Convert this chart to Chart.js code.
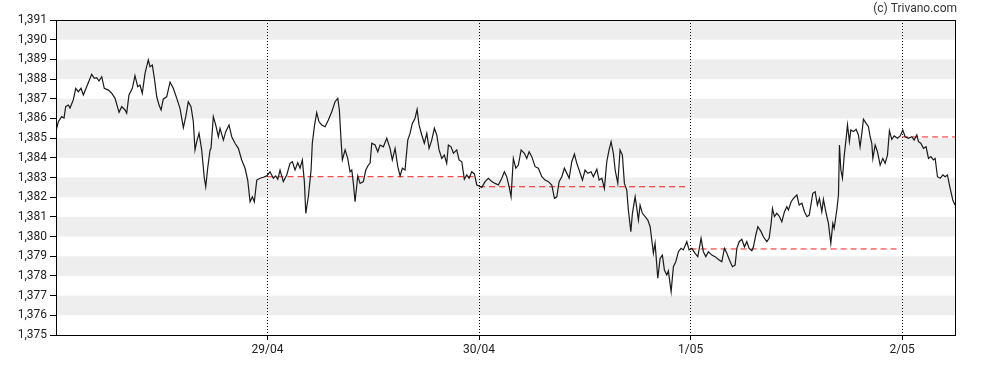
<!DOCTYPE html>
<html><head><meta charset="utf-8">
<script src="https://cdn.jsdelivr.net/npm/chart.js@4.4.1/dist/chart.umd.min.js"></script>
<style>html,body{margin:0;padding:0;background:#fff}#wrap{width:988px;height:370px;position:relative}</style>
</head><body><div id="wrap"><canvas id="c" width="988" height="370"></canvas></div>
<script>
// hours since 28/04 00:00
const times = [0,0.26,0.65,0.91,1.10,1.40,1.59,1.96,2.24,2.53,2.84,3.10,3.48,4.05,4.35,4.62,4.88,5.19,5.48,5.94,
6.32,6.70,7.15,7.46,7.83,8.02,8.28,8.66,8.96,9.27,9.53,9.79,10.10,10.47,10.67,10.93,11.16,11.43,11.69,11.92,
12.18,12.56,12.94,13.31,13.70,14.07,14.45,14.72,15.01,15.32,15.58,15.77,15.97,16.23,16.53,16.83,16.99,17.21,17.48,17.59,
17.85,18.12,18.42,18.61,18.99,19.26,19.63,19.94,20.31,20.69,21.07,21.45,21.75,22.02,22.28,22.50,22.78,23.15,23.52,23.91,
24.28,24.66,24.93,25.16,25.42,25.79,26.18,26.55,26.82,27.12,27.43,27.69,27.95,28.18,28.34,28.63,28.94,29.08,29.31,29.58,
29.84,30.15,30.53,30.90,31.29,31.66,31.97,32.15,32.34,32.49,32.80,33.10,33.36,33.56,33.74,33.93,34.24,34.50,34.87,35.15,
35.44,35.63,35.83,36.20,36.51,36.77,37.14,37.53,37.90,38.16,38.47,38.78,39.04,39.30,39.60,39.91,40.17,40.43,40.74,40.97,
41.19,41.50,41.79,42.07,42.33,42.63,42.93,43.20,43.46,43.77,44.06,44.33,44.52,44.82,45.09,45.47,45.73,46.04,46.33,46.61,
46.87,47.17,47.47,47.74,48.00,48.31,48.68,49.06,49.44,49.82,50.19,50.58,50.87,51.14,51.41,51.63,51.89,52.17,52.46,52.77,
53.14,53.41,53.68,53.98,54.36,54.73,55.12,55.49,55.87,56.25,56.55,56.82,57.08,57.39,57.68,57.96,58.22,58.52,58.82,59.09,
59.35,59.73,60.03,60.34,60.71,60.97,61.36,61.62,61.93,62.22,62.49,62.75,62.98,63.24,63.44,63.74,64.00,64.26,64.49,64.76,
64.94,65.22,65.40,65.71,65.90,66.08,66.27,66.53,66.84,67.15,67.41,67.60,67.78,67.97,68.28,68.54,68.80,69.03,69.30,69.48,
69.79,70.05,70.32,70.62,70.92,71.18,71.57,71.83,72.14,72.51,72.82,73.19,73.45,73.73,74.02,74.41,74.78,75.16,75.54,75.84,
76.11,76.49,76.75,77.05,77.25,77.51,77.81,78.11,78.38,78.64,78.95,79.13,79.40,79.63,80.00,80.26,80.65,80.91,81.14,81.29,
81.51,81.78,82.05,82.35,82.65,82.92,83.10,83.41,83.67,84.06,84.32,84.63,84.92,85.20,85.46,85.87,86.13,86.39,86.62,86.89,
87.07,87.38,87.64,87.91,88.14,88.29,88.59,88.78,88.89,89.05,89.23,89.42,89.65,89.80,90.02,90.18,90.48,90.78,91.04,91.23,
91.43,91.61,91.92,92.18,92.37,92.56,92.68,92.94,93.20,93.51,93.81,94.07,94.34,94.56,94.83,95.10,95.47,95.78,96.08,96.34,
96.72,97.10,97.36,97.67,97.85,98.12,98.42,98.72,98.99,99.26,99.55,99.75,100.01,100.32,100.62,100.88,101.14,101.45,101.75,102.00];

const prices = [1.38536,1.38583,1.38609,1.38602,1.38660,1.38668,1.38653,1.38694,1.38753,1.38736,1.38753,1.38719,1.38761,1.38824,1.38804,1.38807,1.38790,1.38812,1.38753,1.38744,
1.38728,1.38702,1.38631,1.38660,1.38643,1.38626,1.38719,1.38753,1.38817,1.38761,1.38770,1.38728,1.38829,1.38897,1.38863,1.38871,1.38804,1.38710,1.38668,1.38643,
1.38699,1.38710,1.38784,1.38753,1.38702,1.38651,1.38553,1.38609,1.38685,1.38660,1.38583,1.38440,1.38482,1.38524,1.38440,1.38296,1.38253,1.38347,1.38440,1.38448,
1.38609,1.38567,1.38507,1.38550,1.38490,1.38533,1.38567,1.38507,1.38474,1.38448,1.38389,1.38347,1.38287,1.38177,1.38202,1.38177,1.38287,1.38296,1.38301,1.38308,
1.38329,1.38296,1.38308,1.38291,1.38338,1.38279,1.38313,1.38372,1.38380,1.38338,1.38375,1.38347,1.38389,1.38279,1.38118,1.38202,1.38338,1.38474,1.38558,1.38629,
1.38583,1.38567,1.38558,1.38592,1.38634,1.38685,1.38702,1.38643,1.38490,1.38389,1.38440,1.38397,1.38329,1.38338,1.38270,1.38177,1.38308,1.38270,1.38279,1.38338,
1.38363,1.38372,1.38474,1.38465,1.38431,1.38465,1.38456,1.38499,1.38448,1.38389,1.38448,1.38355,1.38308,1.38347,1.38338,1.38490,1.38524,1.38575,1.38601,1.38646,
1.38567,1.38516,1.38474,1.38524,1.38448,1.38490,1.38550,1.38516,1.38440,1.38397,1.38414,1.38372,1.38465,1.38456,1.38423,1.38440,1.38389,1.38380,1.38291,1.38313,
1.38296,1.38329,1.38318,1.38262,1.38257,1.38250,1.38279,1.38296,1.38279,1.38270,1.38262,1.38296,1.38329,1.38304,1.38253,1.38202,1.38397,1.38347,1.38363,1.38440,
1.38423,1.38397,1.38431,1.38406,1.38355,1.38347,1.38304,1.38287,1.38279,1.38262,1.38194,1.38202,1.38279,1.38304,1.38347,1.38321,1.38296,1.38380,1.38419,1.38372,
1.38338,1.38287,1.38338,1.38321,1.38329,1.38304,1.38342,1.38287,1.38296,1.38245,1.38380,1.38440,1.38482,1.38423,1.38338,1.38270,1.38440,1.38414,1.38270,1.38236,
1.38135,1.38025,1.38118,1.38202,1.38143,1.38084,1.38160,1.38118,1.38101,1.38084,1.38050,1.37982,1.37915,1.37966,1.37788,1.37889,1.37906,1.37830,1.37805,1.37826,
1.37720,1.37847,1.37872,1.37923,1.37940,1.37932,1.37974,1.37932,1.37940,1.37915,1.37898,1.37991,1.37923,1.37898,1.37923,1.37906,1.37898,1.37884,1.37872,1.37940,
1.37915,1.37872,1.37847,1.37855,1.37940,1.37974,1.37986,1.37948,1.37974,1.37940,1.37928,1.37948,1.38008,1.38050,1.38025,1.37999,1.37974,1.37991,1.38067,1.38143,
1.38101,1.38118,1.38104,1.38075,1.38126,1.38152,1.38135,1.38177,1.38194,1.38211,1.38160,1.38169,1.38126,1.38101,1.38109,1.38220,1.38228,1.38160,1.38194,1.38126,
1.38189,1.38118,1.38067,1.37966,1.38067,1.38042,1.38135,1.38211,1.38465,1.38338,1.38296,1.38406,1.38499,1.38567,1.38482,1.38541,1.38533,1.38545,1.38516,1.38456,
1.38524,1.38596,1.38575,1.38558,1.38507,1.38474,1.38397,1.38465,1.38431,1.38363,1.38397,1.38372,1.38414,1.38538,1.38494,1.38511,1.38499,1.38511,1.38541,1.38507,
1.38499,1.38507,1.38490,1.38516,1.38482,1.38474,1.38448,1.38456,1.38397,1.38406,1.38389,1.38397,1.38304,1.38296,1.38313,1.38304,1.38313,1.38245,1.38186,1.38160];

const dayTicks = [24, 48, 72, 96];
const dayLabels = ['29/04', '30/04', '1/05', '2/05'];
const refStart = [24, 48, 72, 96];
const refEnd = [47.6, 71.7, 95.7, 102];
const refValue = [1.38304, 1.38253, 1.37937, 1.38506];
const yMin = 1.375, yMax = 1.391, yStep = 0.001;
const bandStarts = [1.376, 1.378, 1.380, 1.382, 1.384, 1.386, 1.388, 1.390];
const xMax = 102;

Chart.defaults.font.family = 'Roboto';
Chart.defaults.font.size = 12;
Chart.defaults.color = '#222';

const mainData = times.map((t, i) => ({x: t, y: prices[i]}));
const refSets = refStart.map((s, i) => ({
  data: [{x: s, y: refValue[i]}, {x: refEnd[i], y: refValue[i]}],
  borderColor: '#ff1a1a', borderWidth: 1, borderDash: [6, 4], pointRadius: 0, fill: false
}));

const bandsPlugin = {
  id: 'bands',
  beforeDraw(chart) {
    const {ctx, chartArea: a, scales: {y}} = chart;
    ctx.save();
    ctx.fillStyle = '#eeeeee';
    bandStarts.forEach(v => {
      const top = y.getPixelForValue(v + yStep), bot = y.getPixelForValue(v);
      ctx.fillRect(a.left, top, a.right - a.left, bot - top);
    });
    ctx.restore();
  },
  afterDraw(chart) {
    const {ctx, chartArea: a} = chart;
    ctx.save();
    ctx.strokeStyle = '#000'; ctx.lineWidth = 1;
    ctx.strokeRect(Math.round(a.left) + 0.5, Math.round(a.top) + 0.5, Math.round(a.right - a.left), Math.round(a.bottom - a.top));
    ctx.fillStyle = '#333';
    ctx.font = '12px Roboto';
    ctx.textAlign = 'right'; ctx.textBaseline = 'middle';
    ctx.fillText('(c) Trivano.com', 957, 9);
    ctx.restore();
  }
};

new Chart(document.getElementById('c'), {
  type: 'line',
  data: {
    datasets: [{
      data: mainData, borderColor: '#1a1a1a', borderWidth: 1.2, pointRadius: 0, tension: 0, fill: false
    }, ...refSets]
  },
  options: {
    responsive: false, animation: false, devicePixelRatio: 1,
    layout: {padding: {top: 20, right: 33, left: 0, bottom: 0}},
    plugins: {legend: {display: false}, tooltip: {enabled: false}},
    scales: {
      x: {
        type: 'linear', min: 0, max: xMax,
        afterBuildTicks(s) { s.ticks = dayTicks.map(v => ({value: v})); },
        afterFit(s) { s.height = 35; },
        ticks: {autoSkip: false, maxRotation: 0, padding: 3,
          callback(v) { const i = dayTicks.indexOf(v); return i >= 0 ? dayLabels[i] : ''; }},
        grid: {color: '#000', lineWidth: 1, drawTicks: true, tickLength: 5, tickColor: '#000', tickBorderDash: []},
        border: {display: true, color: '#000', width: 1, dash: [1, 2]}
      },
      y: {
        min: yMin, max: yMax,
        afterBuildTicks(s) { const t = []; for (let i = 0; i <= Math.round((yMax - yMin) / yStep); i++) t.push({value: +(yMin + i * yStep).toFixed(3)}); s.ticks = t; },
        afterFit(s) { s.width = 56; },
        ticks: {autoSkip: false, padding: 3, callback(v) { return v.toFixed(3).replace('.', ','); }},
        grid: {drawOnChartArea: false, drawTicks: true, tickLength: 6, tickColor: '#000'},
        border: {display: true, color: '#000', width: 1}
      }
    }
  },
  plugins: [bandsPlugin]
});
</script></body></html>
